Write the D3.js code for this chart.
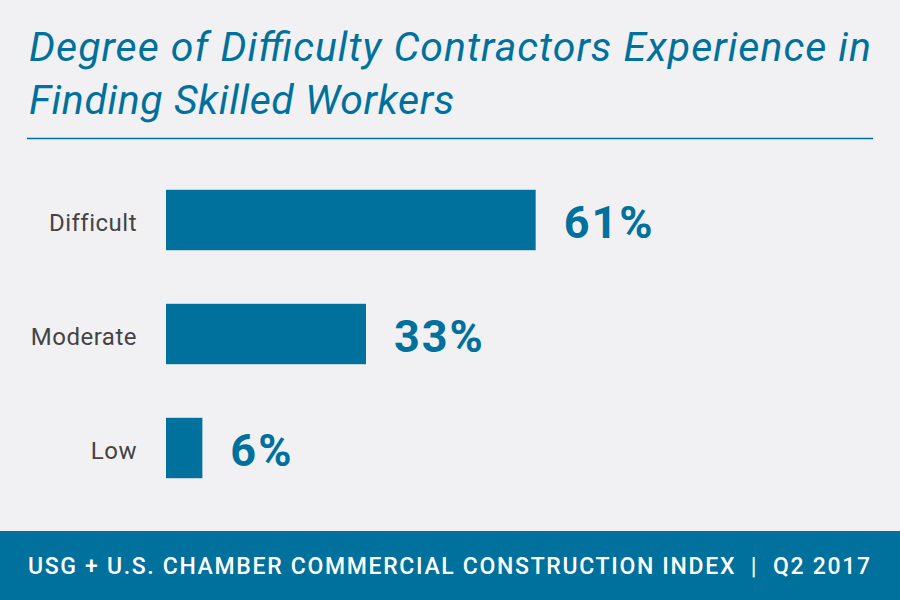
<!DOCTYPE html>
<html><head><meta charset="utf-8">
<script src="https://cdn.jsdelivr.net/npm/d3@7/dist/d3.min.js"></script>
<style>body{margin:0;background:#f1f1f3;}svg{display:block;}</style>
</head><body><svg id="c" width="900" height="600"></svg>
<script>
const categories = ["Difficult", "Moderate", "Low"];
const values = [61, 33, 6];
const valueLabels = ["61%", "33%", "6%"];
const titleLines = ["Degree of Difficulty Contractors Experience in", "Finding Skilled Workers"];
const footerText = "USG + U.S. CHAMBER COMMERCIAL CONSTRUCTION INDEX  |  Q2 2017";

const blue = "#00709c";
const svg = d3.select("#c");
svg.append("rect").attr("width",900).attr("height",600).attr("fill","#f1f1f3");

svg.selectAll("text.title").data(titleLines).join("text")
  .attr("class","title")
  .attr("x",29).attr("y",(d,i)=>61+i*53)
  .attr("fill",blue).attr("font-family","Roboto, 'Open Sans', sans-serif")
  .attr("font-style","italic").attr("font-size",41)
  .attr("textLength",(d,i)=>i===0?842:null).attr("lengthAdjust","spacing")
  .attr("letter-spacing",(d,i)=>i===0?null:0.6)
  .text(d=>d);

svg.append("line").attr("x1",27).attr("x2",873).attr("y1",138.5).attr("y2",138.5)
  .attr("stroke",blue).attr("stroke-width",1.5);

const x = d3.scaleLinear().domain([0,100]).range([166,772]);
const y = d3.scaleBand().domain(categories).range([163,505]).paddingInner(0.47).paddingOuter(0.235);

const g = svg.append("g");
g.selectAll("rect.bar").data(values).join("rect")
  .attr("class","bar")
  .attr("x",x(0)).attr("y",(d,i)=>y(categories[i]))
  .attr("width",d=>x(d)-x(0)).attr("height",y.bandwidth())
  .attr("fill",blue);

g.selectAll("text.cat").data(categories).join("text")
  .attr("class","cat")
  .attr("x",137).attr("y",d=>y(d)+y.bandwidth()/2)
  .attr("dy","0.45em").attr("text-anchor","end")
  .attr("fill","#444").attr("font-family","Roboto, sans-serif").attr("font-size",24)
  .attr("letter-spacing",0.5)
  .text(d=>d);

g.selectAll("text.val").data(values).join("text")
  .attr("class","val")
  .attr("x",d=>x(d)+28).attr("y",(d,i)=>y(categories[i])+y.bandwidth()/2)
  .attr("dy","0.39em")
  .attr("fill",blue).attr("font-family","Roboto, sans-serif").attr("font-weight","bold").attr("font-size",45)
  .attr("letter-spacing",2)
  .text((d,i)=>valueLabels[i]);

svg.append("rect").attr("x",0).attr("y",531).attr("width",900).attr("height",69).attr("fill",blue);
svg.append("text").attr("x",28).attr("y",574)
  .attr("fill","#fff").attr("font-family","Roboto, sans-serif").attr("font-size",23).attr("font-weight",500)
  .attr("textLength",842).attr("lengthAdjust","spacing")
  .attr("xml:space","preserve").style("white-space","pre")
  .text(footerText);
</script></body></html>
